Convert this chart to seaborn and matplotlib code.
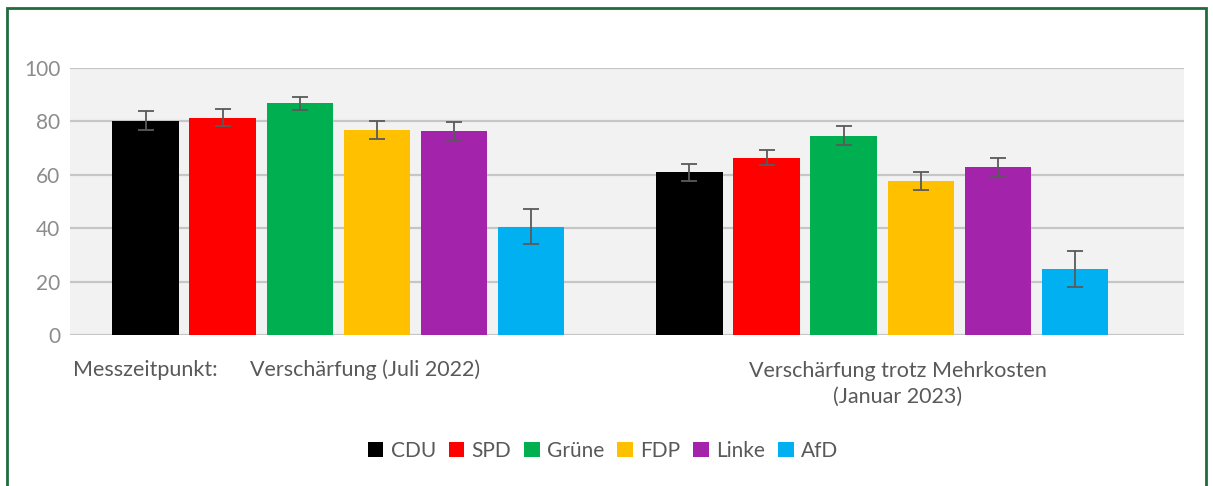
import matplotlib.pyplot as plt
import matplotlib.patches as mpatches
import seaborn as sns
import pandas as pd

# Stil setzen
sns.set_style("whitegrid")
plt.rcParams['font.family'] = ['Lato', 'DejaVu Sans']

# Daten
zeitpunkte = ["Juli 2022", "Januar 2023"]
zeitpunkt_labels = ["Verschärfung (Juli 2022)", "Verschärfung trotz Mehrkosten\n(Januar 2023)"]
parteien = ["CDU", "SPD", "Grüne", "FDP", "Linke", "AfD"]
farben = ["#000000", "#ff0000", "#00b050", "#ffc000", "#a323aa", "#00b0f0"]
werte_2022 = [80.3, 81.3, 86.8, 76.7, 76.3, 40.6]
fehler_2022 = [3.5, 3.2, 2.5, 3.4, 3.5, 6.5]
werte_2023 = [60.9, 66.4, 74.7, 57.8, 62.8, 24.8]
fehler_2023 = [3.3, 2.8, 3.4, 3.4, 3.4, 6.8]

df = pd.DataFrame({
    'zeitpunkt': [zeitpunkte[0]] * len(parteien) + [zeitpunkte[1]] * len(parteien),
    'partei': parteien * 2,
    'wert': werte_2022 + werte_2023,
    'fehler': fehler_2022 + fehler_2023,
})

text_grau = '#595959'

fig = plt.figure(figsize=(12.13, 4.86), dpi=100)
ax = fig.add_axes([70 / 1213, 1 - 335 / 486, (1184 - 70) / 1213, (335 - 68) / 486])

sns.barplot(data=df, x='zeitpunkt', y='wert', hue='partei', order=zeitpunkte,
            hue_order=parteien, palette=farben, saturation=1, width=0.85, gap=0.14,
            errorbar=None, linewidth=0, ax=ax)

# Fehlerbalken auf die Balken setzen
for container, partei in zip(ax.containers, parteien):
    sub = df[df['partei'] == partei].set_index('zeitpunkt').loc[zeitpunkte]
    xs = [bar.get_x() + bar.get_width() / 2 for bar in container]
    ax.errorbar(xs, sub['wert'], yerr=sub['fehler'], fmt='none',
                ecolor='#5a5a5a', elinewidth=1.3, capsize=6, capthick=1.3, zorder=5)

handles, labels = ax.get_legend_handles_labels()
if ax.get_legend() is not None:
    ax.get_legend().remove()

# Achsen
ax.set_xlim(-0.493, 1.555)
ax.set_ylim(0, 100)
ax.set_yticks(range(0, 101, 20))
ax.set_facecolor('#f2f2f2')
ax.yaxis.grid(True, color='#c6c6c6', linewidth=1.6)
ax.xaxis.grid(False)
ax.set_axisbelow(True)
for spine in ax.spines.values():
    spine.set_visible(False)
ax.tick_params(axis='y', length=0, pad=7, labelsize=15, labelcolor='#8c8c8c')
ax.set_xticks([])
ax.set_xlabel('')
ax.set_ylabel('')

# Kategorienbeschriftung
fig.text(73 / 1213, 1 - 370 / 486, 'Messzeitpunkt:', fontsize=15.5, color=text_grau,
         ha='left', va='center')
fig.text(365 / 1213, 1 - 370 / 486, zeitpunkt_labels[0], fontsize=15.5, color=text_grau,
         ha='center', va='center')
fig.text(898 / 1213, 1 - 384 / 486, zeitpunkt_labels[1], fontsize=15.5, color=text_grau,
         ha='center', va='center', linespacing=1.4)

# Legende
fig.legend(handles, labels, loc='center', bbox_to_anchor=(603 / 1213, 1 - 451 / 486),
           ncol=6, frameon=False, fontsize=15, handlelength=0.75, handleheight=0.75,
           handletextpad=0.35, columnspacing=0.62, labelcolor=text_grau)

# grüner Rahmen
rahmen = mpatches.Rectangle((7 / 1213, -0.2), (1206 - 7) / 1213, 1.2 - 8 / 486,
                            transform=fig.transFigure, fill=False,
                            edgecolor='#1f6b3c', linewidth=2)
fig.patches.append(rahmen)

plt.savefig('out.png', dpi=100)
plt.close()
